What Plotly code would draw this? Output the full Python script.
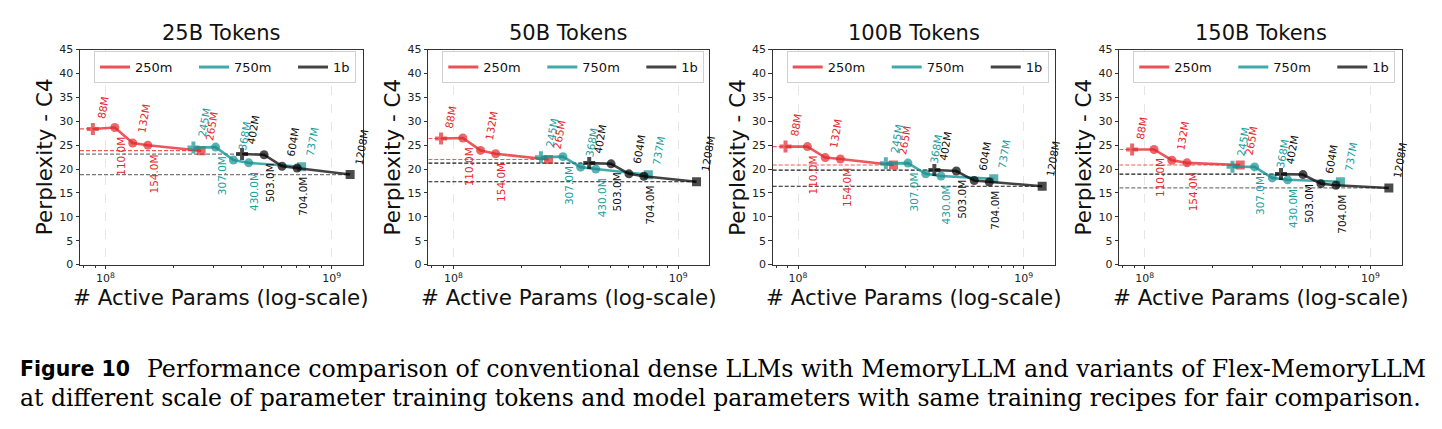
import math
import plotly.graph_objects as go

# ---------------- data ----------------
panel_titles = ["25B Tokens", "50B Tokens", "100B Tokens", "150B Tokens"]
series_names = ["250m", "750m", "1b"]

params_250m = [88, 110, 132, 154, 265]      # millions of active params
params_750m = [245, 307, 368, 430, 737]
params_1b = [402, 503, 604, 704, 1208]

labels_250m = ["88M", "110.0M", "132M", "154.0M", "265M"]
labels_750m = ["245M", "307.0M", "368M", "430.0M", "737M"]
labels_1b = ["402M", "503.0M", "604M", "704.0M", "1208M"]

# perplexity per panel (25B, 50B, 100B, 150B tokens)
ppl_250m = [
    [28.4, 28.7, 25.45, 25.0, 23.85],
    [26.4, 26.5, 23.9, 23.2, 22.0],
    [24.7, 24.7, 22.4, 22.1, 20.85],
    [24.1, 24.1, 21.85, 21.3, 20.85],
]
ppl_750m = [
    [24.5, 24.6, 21.9, 21.3, 20.5],
    [22.5, 22.6, 20.4, 20.0, 18.8],
    [21.2, 21.25, 19.0, 18.55, 17.95],
    [20.5, 20.45, 18.15, 17.75, 17.35],
]
ppl_1b = [
    [23.15, 23.0, 20.6, 20.2, 18.85],
    [21.25, 21.1, 19.0, 18.5, 17.35],
    [19.8, 19.6, 17.6, 17.3, 16.4],
    [18.95, 18.85, 16.95, 16.6, 16.05],
]

y_ticks = [0, 5, 10, 15, 20, 25, 30, 35, 40, 45]
x_major_ticks = [1e8, 1e9]
x_major_labels = ["10<sup>8</sup>", "10<sup>9</sup>"]
x_minor_ticks = [8e7, 9e7, 2e8, 3e8, 4e8, 5e8, 6e8, 7e8, 8e8, 9e8]

caption_title = "Figure 10"
caption_line1 = ("Performance comparison of conventional dense LLMs with MemoryLLM "
                 "and variants of Flex-MemoryLLM")
caption_line2 = ("at different scale of parameter training tokens and model parameters "
                 "with same training recipes for fair comparison.")

# ---------------- style ----------------
W, H = 1442, 429
line_colors = ["rgba(230,40,44,0.78)", "rgba(20,150,150,0.8)", "rgba(20,20,20,0.8)"]
marker_colors = ["#e3262b", "#14908f", "#000000"]
text_colors = ["#e8262b", "#19a0a0", "#111111"]
legend_colors = ["#ee5054", "#40aaaa", "#444444"]
ref_red = "rgba(240,60,60,0.85)"
ref_black = [["#7a7a7a", "#7a7a7a"], ["#1a1a1a", "#1a1a1a"],
             ["#1a1a1a", "#1a1a1a"], ["#1a1a1a", "#7a7a7a"]]
symbols = ["cross", "circle", "circle", "circle", "square"]
sizes = [10, 9, 9, 9, 9]

axes_px = [(80, 363), (428.3, 709.3), (772.7, 1055), (1119.3, 1401.7)]
ax_top, ax_bot = 45, 266.7

all_x = [v * 1e6 for v in params_250m + params_750m + params_1b]
lo, hi = math.log10(min(all_x)), math.log10(max(all_x))
pad = 0.05 * (hi - lo)
xr = [lo - pad, hi + pad]
x_left = 10 ** xr[0]

fig = go.Figure()
layout = dict(width=W, height=H, margin=dict(l=0, r=0, t=0, b=0),
              paper_bgcolor="white", plot_bgcolor="white",
              font=dict(family="DejaVu Sans", color="#111"))
annotations = []

series = [(params_250m, labels_250m, ppl_250m),
          (params_750m, labels_750m, ppl_750m),
          (params_1b, labels_1b, ppl_1b)]

PAD = "&nbsp;" * 4  # spacing after legend entries

for p in range(4):
    sfx = "" if p == 0 else str(p + 1)
    xa, ya = "x" + sfx, "y" + sfx
    x0, x1 = axes_px[p]
    layout["xaxis" + sfx] = dict(
        type="log", range=xr, domain=[x0 / W, x1 / W], anchor=ya,
        tickvals=x_major_ticks, ticktext=x_major_labels,
        ticks="outside", ticklen=3.5, tickwidth=0.8, tickcolor="#333",
        tickfont=dict(size=11, color="#222"),
        showgrid=True, gridcolor="#e6e6e6", griddash="dash", gridwidth=0.8,
        minor=dict(tickvals=x_minor_ticks, ticks="outside", ticklen=2,
                   tickwidth=0.6, tickcolor="#333", showgrid=False),
        showline=True, linecolor="#333", linewidth=1, mirror=True,
        zeroline=False)
    layout["yaxis" + sfx] = dict(
        range=[0, 45], domain=[1 - ax_bot / H, 1 - ax_top / H], anchor=xa,
        tickvals=y_ticks, ticks="outside", ticklen=3.5, tickwidth=0.8,
        tickcolor="#333", tickfont=dict(size=11, color="#222"),
        showgrid=False, showline=True, linecolor="#333", linewidth=1,
        mirror=True, zeroline=False)

    # reference dashed lines (memory variant "+" and dense square)
    for si in (0, 2):
        xs, _, ys = series[si]
        for k, idx in enumerate([0, 4]):
            c = ref_red if si == 0 else ref_black[p][k]
            fig.add_trace(go.Scatter(
                x=[x_left, xs[idx] * 1e6], y=[ys[p][idx], ys[p][idx]],
                mode="lines", line=dict(color=c, width=1.2, dash="4px,2px"),
                xaxis=xa, yaxis=ya, showlegend=False, hoverinfo="skip"))

    for si, (xs, labs, ys) in enumerate(series):
        fig.add_trace(go.Scatter(
            x=[v * 1e6 for v in xs], y=ys[p], mode="lines+markers",
            line=dict(color=line_colors[si], width=2.6),
            marker=dict(symbol=symbols, size=sizes, color=marker_colors[si],
                        line=dict(width=0)),
            xaxis=xa, yaxis=ya, showlegend=False, hoverinfo="skip"))
        for i, (xv, lab) in enumerate(zip(xs, labs)):
            above = (i % 2 == 0)
            annotations.append(dict(
                x=math.log10(xv * 1e6), y=ys[p][i], xref=xa, yref=ya,
                text=lab, showarrow=False,
                textangle=-80 if above else -90,
                xanchor="left", yanchor="bottom" if above else "top",
                xshift=1 if above else -1, yshift=8 if above else -8,
                font=dict(size=10.5, color=text_colors[si]),
                borderpad=0))

    # legend-only traces
    lg = "legend" if p == 0 else "legend" + str(p + 1)
    for si, name in enumerate(series_names):
        fig.add_trace(go.Scatter(
            x=[None], y=[None], mode="lines",
            name=name + (PAD if si < 2 else ""),
            line=dict(color=legend_colors[si], width=3),
            xaxis=xa, yaxis=ya, legend=lg, showlegend=True))
    layout[lg] = dict(
        x=(x0 + 14) / W, y=1 - 46.5 / H, xanchor="left", yanchor="top",
        orientation="h", bgcolor="rgba(255,255,255,0.85)",
        bordercolor="#d0d0d0", borderwidth=1,
        font=dict(size=13, color="#111"), itemwidth=30, tracegroupgap=0)

    cx = (x0 + x1) / 2 / W
    annotations.append(dict(x=cx, y=1 - 28 / H, xref="paper", yref="paper",
                            text=panel_titles[p], showarrow=False,
                            font=dict(size=21, color="#111"),
                            xanchor="center", yanchor="middle"))
    annotations.append(dict(x=cx, y=1 - 301 / H, xref="paper", yref="paper",
                            text="# Active Params (log-scale)", showarrow=False,
                            font=dict(size=21.4, color="#111"),
                            xanchor="center", yanchor="middle"))
    annotations.append(dict(x=(x0 - 36) / W, y=1 - (ax_top + ax_bot) / 2 / H,
                            xref="paper", yref="paper",
                            text="Perplexity - C4", showarrow=False,
                            textangle=-90, font=dict(size=21.5, color="#111"),
                            xanchor="center", yanchor="middle"))

# caption
annotations.append(dict(x=18 / W, y=1 - 374 / H, xref="paper", yref="paper",
                        text="<b>" + caption_title + "</b>", showarrow=False,
                        font=dict(family="DejaVu Sans", size=20.5, color="#000"),
                        xanchor="left", yanchor="middle"))
annotations.append(dict(x=145 / W, y=1 - 374 / H, xref="paper", yref="paper",
                        text=caption_line1, showarrow=False,
                        font=dict(family="DejaVu Serif", size=23.7, color="#000"),
                        xanchor="left", yanchor="middle"))
annotations.append(dict(x=18 / W, y=1 - 404 / H, xref="paper", yref="paper",
                        text=caption_line2, showarrow=False,
                        font=dict(family="DejaVu Serif", size=23.5, color="#000"),
                        xanchor="left", yanchor="middle"))

layout["annotations"] = annotations
fig.update_layout(**layout)
fig.write_html("out.html")
